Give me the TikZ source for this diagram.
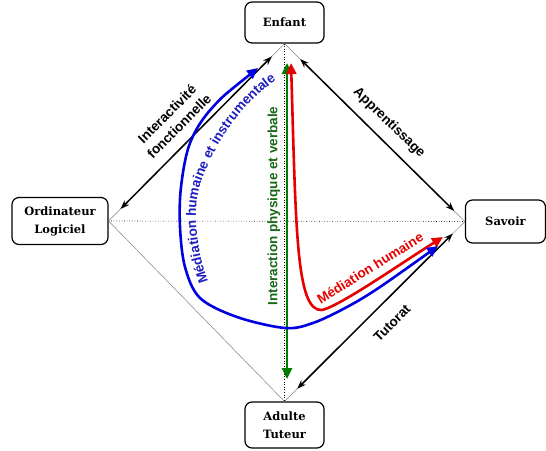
\documentclass[tikz,border=0pt]{standalone}
\usepackage{fontspec}
\setmainfont{DejaVu Serif}
\newfontfamily\lblfont{Liberation Sans}
\usetikzlibrary{arrows.meta,decorations.text}
\definecolor{myblue}{RGB}{0,0,225}
\definecolor{myred}{RGB}{230,0,0}
\definecolor{mygreen}{RGB}{0,125,0}
\definecolor{txtgreen}{RGB}{25,105,25}
\definecolor{txtblue}{RGB}{30,30,190}
\begin{document}
\begin{tikzpicture}[x=1pt,y=-1pt,
 box/.style={draw, line width=1.2pt, rounded corners=7pt, fill=white, font=\fontsize{11.5}{18}\selectfont\bfseries, align=center, inner sep=0pt},
 edgeline/.style={draw=gray, line width=0.5pt},
 axisline/.style={dotted, line width=0.6pt},
 rel/.style={line width=1.5pt, {Stealth[length=9pt,width=6.5pt]}-{Stealth[length=9pt,width=6.5pt]}},
 flow/.style={line width=2.6pt, {Triangle[length=11pt,width=10pt]}-{Triangle[length=11pt,width=10pt]}},
 lbl/.style={font=\lblfont\bfseries\fontsize{13.5}{17}\selectfont, align=center, inner sep=0pt},
]
\useasboundingbox (0,0) rectangle (546,450);
% boxes
\node[box, minimum width=79pt, minimum height=41pt] (enfant) at (284.5,22.5) {Enfant};
\node[box, minimum width=96pt, minimum height=47pt] (ordi) at (60,221) {Ordinateur\\Logiciel};
\node[box, minimum width=80pt, minimum height=43pt] (savoir) at (505.5,221.5) {Savoir};
\node[box, minimum width=79pt, minimum height=46pt] (adulte) at (284.5,425) {Adulte\\Tuteur};
% diamond and axes
\draw[edgeline] (enfant.south) -- (ordi.east) -- (adulte.north) -- (savoir.west) -- cycle;
\draw[axisline] (enfant.south) -- (adulte.north);
\draw[axisline] (ordi.east) -- (savoir.west);
% black relations
\draw[rel, shorten <=17pt, shorten >=18pt] (ordi.east) -- (enfant.south);
\draw[rel, shorten <=22pt, shorten >=15pt] (enfant.south) -- (savoir.west);
\draw[rel, shorten <=17pt, shorten >=18pt] (savoir.west) -- (adulte.north);
% coloured flows
\coordinate (g1) at (287,63);
\coordinate (g2) at (287,379);
\coordinate (r1) at (291,63);
\coordinate (r2) at (443,237);
\coordinate (b1) at (258,68);
\coordinate (b2) at (438,246);
\draw[flow, mygreen] (g1) -- (g2);
\draw[flow, myred] (r1) .. controls (296,230) and (296,312) .. (322,310)
   .. controls (340,306) and (400,264) .. (r2);
\draw[flow, myblue] plot[smooth, tension=0.55] coordinates {(b1) (212,108) (190,143) (181,187) (180,227) (185,267) (200,298) (237,317) (285,328) (313,323) (347,307) (380,287) (b2)};
% labels
\node[lbl, text=txtgreen, rotate=90] (lgreen) at (274,206) {Interaction physique et verbale};
\node[lbl, text=myred, rotate=32] (lred) at (370,268) {Médiation humaine};
\node[lbl, rotate=45] (linter) at (173,120) {Interactivité\\fonctionnelle};
\node[lbl, rotate=-44] (lapp) at (389,123) {Apprentissage};
\node[lbl, rotate=45] (ltut) at (392,323) {Tutorat};
\coordinate (t1) at (214,297);
\coordinate (t2) at (290,72);
\path[decorate, decoration={text along path, text align=center,
  text={|\lblfont\bfseries\fontsize{13.5}{17}\selectfont\color{txtblue}|Médiation humaine et instrumentale}}]
  (t1) .. controls (195,252) and (190,205) .. (204,175) .. controls (217,140) and (247,95) .. (t2);
\end{tikzpicture}
\end{document}
